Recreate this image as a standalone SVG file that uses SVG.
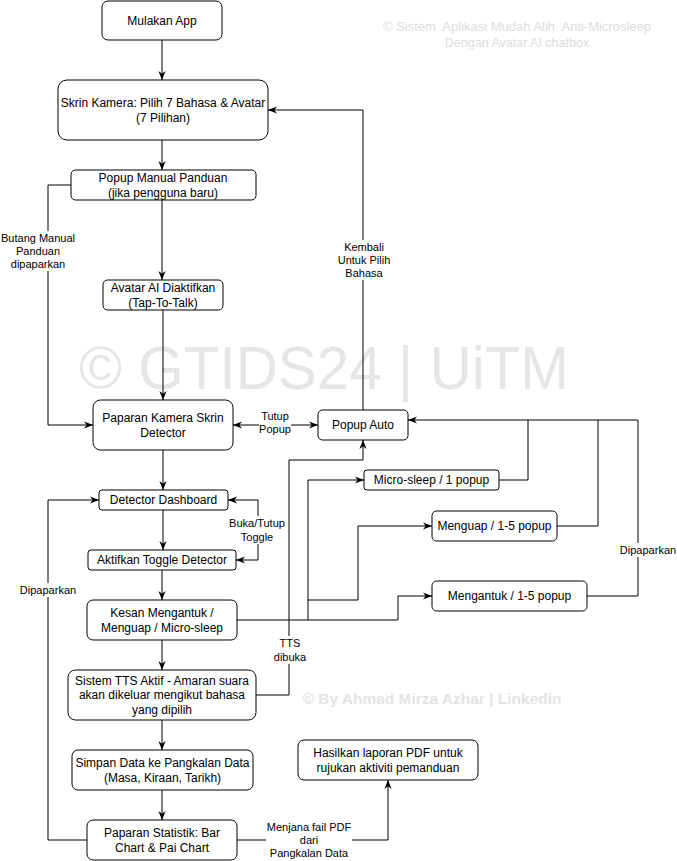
<svg xmlns="http://www.w3.org/2000/svg" width="677" height="861" viewBox="0 0 677 861">
<style>
.n rect{fill:#fff;stroke:#000;stroke-width:1}
.n text{font-family:"Liberation Sans",Arial,sans-serif;font-size:12px;fill:#000;text-anchor:middle}
.e path{fill:none;stroke:#000;stroke-width:1}
.lbl rect{fill:#fff;stroke:none}
.lbl text{font-family:"Liberation Sans",Arial,sans-serif;font-size:11px;fill:#000;text-anchor:middle}
.wm{font-family:"Liberation Sans",Arial,sans-serif;text-anchor:middle}
</style>
<defs>
<marker id="a" viewBox="0 0 10 10" refX="10" refY="5" markerWidth="9" markerHeight="9" markerUnits="userSpaceOnUse" orient="auto-start-reverse">
<path d="M0,1 L10,5 L0,9 L3,5 z" fill="#000"/>
</marker>
</defs>
<rect width="677" height="861" fill="#fff"/>
<g id="watermarks">
<text class="wm" x="324" y="389" font-size="62" fill="#e6e6e6" textLength="490" lengthAdjust="spacingAndGlyphs">© GTIDS24 | UiTM</text>
<text class="wm" x="517" y="31" font-size="12.5" fill="#dcdcdc" xml:space="preserve" style="white-space:pre" textLength="268" lengthAdjust="spacingAndGlyphs">© Sistem  Aplikasi Mudah Alih  Anti-Microsleep</text>
<text class="wm" x="517" y="47" font-size="12.5" fill="#dcdcdc">Dengan Avatar AI chatbox</text>
<text class="wm" x="432" y="704" font-size="15.5" font-weight="bold" fill="#e4e4e4" textLength="259" lengthAdjust="spacingAndGlyphs">© By Ahmad Mirza Azhar | Linkedin</text>
</g>
<g id="connectors" class="e">
<path d="M162,40 V80" marker-end="url(#a)"/>
<path d="M162,140 V170" marker-end="url(#a)"/>
<path d="M162,200 V280" marker-end="url(#a)"/>
<path d="M163,310 V400" marker-end="url(#a)"/>
<path d="M71,185 H48 V425 H93" marker-end="url(#a)"/>
<path d="M233,425 H318" marker-start="url(#a)" marker-end="url(#a)"/>
<path d="M363,410 V110 H268" marker-end="url(#a)"/>
<path d="M163,450 V490" marker-end="url(#a)"/>
<path d="M163,510 V550" marker-end="url(#a)"/>
<path d="M228,500 H258 V560 H236" marker-start="url(#a)" marker-end="url(#a)"/>
<path d="M162,570 V600" marker-end="url(#a)"/>
<path d="M237,620 H398 V596 H432" marker-end="url(#a)"/>
<path d="M308,620 V480 H364" marker-end="url(#a)"/>
<path d="M308,600 H358 V526 H432" marker-end="url(#a)"/>
<path d="M499,480 H528 V420"/>
<path d="M557,526 H598 V420"/>
<path d="M587,596 H638 V420 H408" marker-end="url(#a)"/>
<path d="M256,695 H289 V460 H363 V440" marker-end="url(#a)"/>
<path d="M162,640 V670" marker-end="url(#a)"/>
<path d="M162,720 V750" marker-end="url(#a)"/>
<path d="M162,790 V820" marker-end="url(#a)"/>
<path d="M87,840 H48 V500 H99" marker-end="url(#a)"/>
<path d="M237,840 H388 V780" marker-end="url(#a)"/>
</g>
<g id="edge-labels" class="lbl">
<g id="lbl-butang">
<rect x="2" y="231" width="73" height="40"/>
<text x="38" y="242">Butang Manual</text>
<text x="38" y="255">Panduan</text>
<text x="38" y="268">dipaparkan</text>
</g>
<g id="lbl-kembali">
<rect x="336" y="240" width="55" height="40"/>
<text x="364" y="251">Kembali</text>
<text x="364" y="264">Untuk Pilih</text>
<text x="364" y="277">Bahasa</text>
</g>
<g id="lbl-tutup">
<rect x="259" y="409" width="32" height="28"/>
<text x="275" y="420">Tutup</text>
<text x="275" y="433">Popup</text>
</g>
<g id="lbl-buka">
<rect x="228" y="516" width="58" height="28"/>
<text x="257" y="527">Buka/Tutup</text>
<text x="257" y="541">Toggle</text>
</g>
<g id="lbl-dip-left">
<rect x="18" y="583" width="60" height="14"/>
<text x="48" y="594">Dipaparkan</text>
</g>
<g id="lbl-dip-right">
<rect x="618" y="543" width="60" height="14"/>
<text x="648" y="554">Dipaparkan</text>
</g>
<g id="lbl-tts">
<rect x="273" y="636" width="34" height="28"/>
<text x="290" y="647">TTS</text>
<text x="290" y="661">dibuka</text>
</g>
<g id="lbl-menjana">
<rect x="266" y="820" width="86" height="41"/>
<text x="309" y="831">Menjana fail PDF</text>
<text x="309" y="844">dari</text>
<text x="309" y="857">Pangkalan Data</text>
</g>
</g>
<g id="n-mulakan" class="n"><rect x="102" y="1" width="120" height="39" rx="6"/><text x="162" y="25">Mulakan App</text></g>
<g id="n-skrin" class="n"><rect x="58" y="80" width="210" height="60" rx="9"/><text x="163" y="107">Skrin Kamera: Pilih 7 Bahasa &amp; Avatar</text><text x="163" y="121.5">(7 Pilihan)</text></g>
<g id="n-manual" class="n"><rect x="71" y="170" width="185" height="30" rx="4.5"/><text x="163" y="182">Popup Manual Panduan</text><text x="163" y="196.5">(jika pengguna baru)</text></g>
<g id="n-avatar" class="n"><rect x="103" y="280" width="120" height="30" rx="4.5"/><text x="163" y="292">Avatar AI Diaktifkan</text><text x="163" y="306.5">(Tap-To-Talk)</text></g>
<g id="n-paparan" class="n"><rect x="93" y="400" width="140" height="50" rx="7.5"/><text x="163" y="422">Paparan Kamera Skrin</text><text x="163" y="436.5">Detector</text></g>
<g id="n-popupauto" class="n"><rect x="318" y="410" width="90" height="30" rx="4.5"/><text x="363" y="429">Popup Auto</text></g>
<g id="n-dashboard" class="n"><rect x="99" y="490" width="129" height="20" rx="3"/><text x="163.5" y="504">Detector Dashboard</text></g>
<g id="n-toggle" class="n"><rect x="88" y="550" width="148" height="20" rx="3"/><text x="162" y="564">Aktifkan Toggle Detector</text></g>
<g id="n-kesan" class="n"><rect x="87" y="600" width="150" height="40" rx="6"/><text x="162" y="617">Kesan Mengantuk /</text><text x="162" y="631.5">Menguap / Micro-sleep</text></g>
<g id="n-micro" class="n"><rect x="364" y="470" width="135" height="20" rx="3"/><text x="431.5" y="484">Micro-sleep / 1 popup</text></g>
<g id="n-menguap" class="n"><rect x="432" y="511" width="125" height="30" rx="4.5"/><text x="494.5" y="530">Menguap / 1-5 popup</text></g>
<g id="n-mengantuk" class="n"><rect x="432" y="581" width="155" height="30" rx="4.5"/><text x="509.5" y="600">Mengantuk / 1-5 popup</text></g>
<g id="n-tts" class="n"><rect x="68" y="670" width="188" height="50" rx="7.5"/><text x="162" y="685">Sistem TTS Aktif - Amaran suara</text><text x="162" y="699">akan dikeluar mengikut bahasa</text><text x="162" y="713.5">yang dipilih</text></g>
<g id="n-simpan" class="n"><rect x="72" y="750" width="181" height="40" rx="6"/><text x="162.5" y="767">Simpan Data ke Pangkalan Data</text><text x="162.5" y="781.5">(Masa, Kiraan, Tarikh)</text></g>
<g id="n-statistik" class="n"><rect x="87" y="820" width="150" height="40" rx="6"/><text x="162" y="837">Paparan Statistik: Bar</text><text x="162" y="851.5">Chart &amp; Pai Chart</text></g>
<g id="n-pdf" class="n"><rect x="298" y="740" width="180" height="40" rx="6"/><text x="388" y="757">Hasilkan laporan PDF untuk</text><text x="388" y="771.5">rujukan aktiviti pemanduan</text></g>
</svg>
